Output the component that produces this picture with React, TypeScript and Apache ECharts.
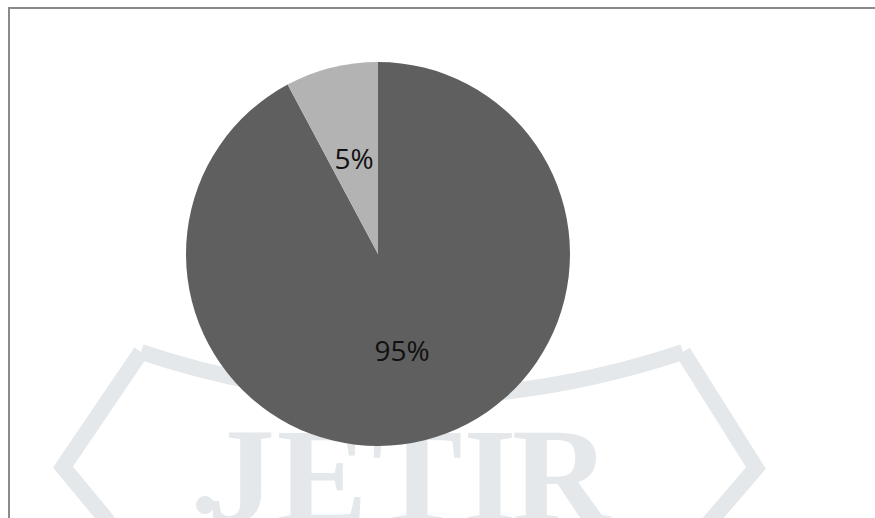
import React, { useEffect, useRef } from "react";
import * as echarts from "echarts";

const categories = ["Majority", "Minority"];
const sliceValues = [92.2, 7.8];
const sliceLabels = ["95%", "5%"];
const sliceColors = ["#5f5f5f", "#b3b3b3"];
const watermarkLetters = ["J", "E", "T", "I", "R"];
const watermarkLetterX = [241, 322, 417, 490, 561];

export default function App() {
  const ref = useRef<HTMLDivElement>(null);
  useEffect(() => {
    if (!ref.current) return;
    const chart = echarts.init(ref.current, null, { renderer: "svg" });
    const wm = "#e4e8eb";
    const letters = watermarkLetters.map((ch, i) => ({
      type: "text",
      z: 0,
      silent: true,
      style: {
        text: ch,
        x: watermarkLetterX[i],
        y: 476,
        textAlign: "center",
        textVerticalAlign: "middle",
        font: "bold 136px 'Liberation Serif'",
        fill: wm,
      },
    }));
    chart.setOption({
      animation: false,
      backgroundColor: "#ffffff",
      graphic: {
        elements: [
          {
            type: "polyline",
            z: 0,
            silent: true,
            shape: { points: [[110, 524], [63, 467], [141, 352]] },
            style: { stroke: wm, lineWidth: 16, fill: "none", lineJoin: "miter" },
          },
          {
            type: "bezierCurve",
            z: 0,
            silent: true,
            shape: { x1: 141, y1: 352, x2: 683, y2: 352, cpx1: 412, cpy1: 442 },
            style: { stroke: wm, lineWidth: 16, fill: "none" },
          },
          {
            type: "polyline",
            z: 0,
            silent: true,
            shape: { points: [[683, 352], [756, 468], [708, 524]] },
            style: { stroke: wm, lineWidth: 16, fill: "none", lineJoin: "miter" },
          },
          {
            type: "circle",
            z: 0,
            silent: true,
            shape: { cx: 205, cy: 505, r: 9 },
            style: { fill: wm },
          },
          ...letters,
          {
            type: "line",
            z: 50,
            silent: true,
            shape: { x1: 8, y1: 8, x2: 875, y2: 8 },
            style: { stroke: "#8a8a8a", lineWidth: 2 },
          },
          {
            type: "line",
            z: 50,
            silent: true,
            shape: { x1: 9, y1: 7, x2: 9, y2: 518 },
            style: { stroke: "#8a8a8a", lineWidth: 2 },
          },
        ],
      },
      series: [
        {
          type: "pie",
          z: 5,
          center: [378, 254],
          radius: [0, 192],
          startAngle: 90,
          clockwise: true,
          silent: true,
          label: {
            show: true,
            position: "inside",
            formatter: (p: any) => sliceLabels[p.dataIndex],
            fontFamily: "'Open Sans', sans-serif",
            fontSize: 28,
            color: "#111111",
          },
          labelLine: { show: false },
          itemStyle: { borderWidth: 0 },
          data: categories.map((name, i) => ({
            name,
            value: sliceValues[i],
            itemStyle: { color: sliceColors[i] },
          })),
        },
      ],
    });
    return () => chart.dispose();
  }, []);
  return (
    <div
      ref={ref}
      style={{ position: "absolute", left: 0, top: 0, width: 875, height: 518 }}
    />
  );
}
